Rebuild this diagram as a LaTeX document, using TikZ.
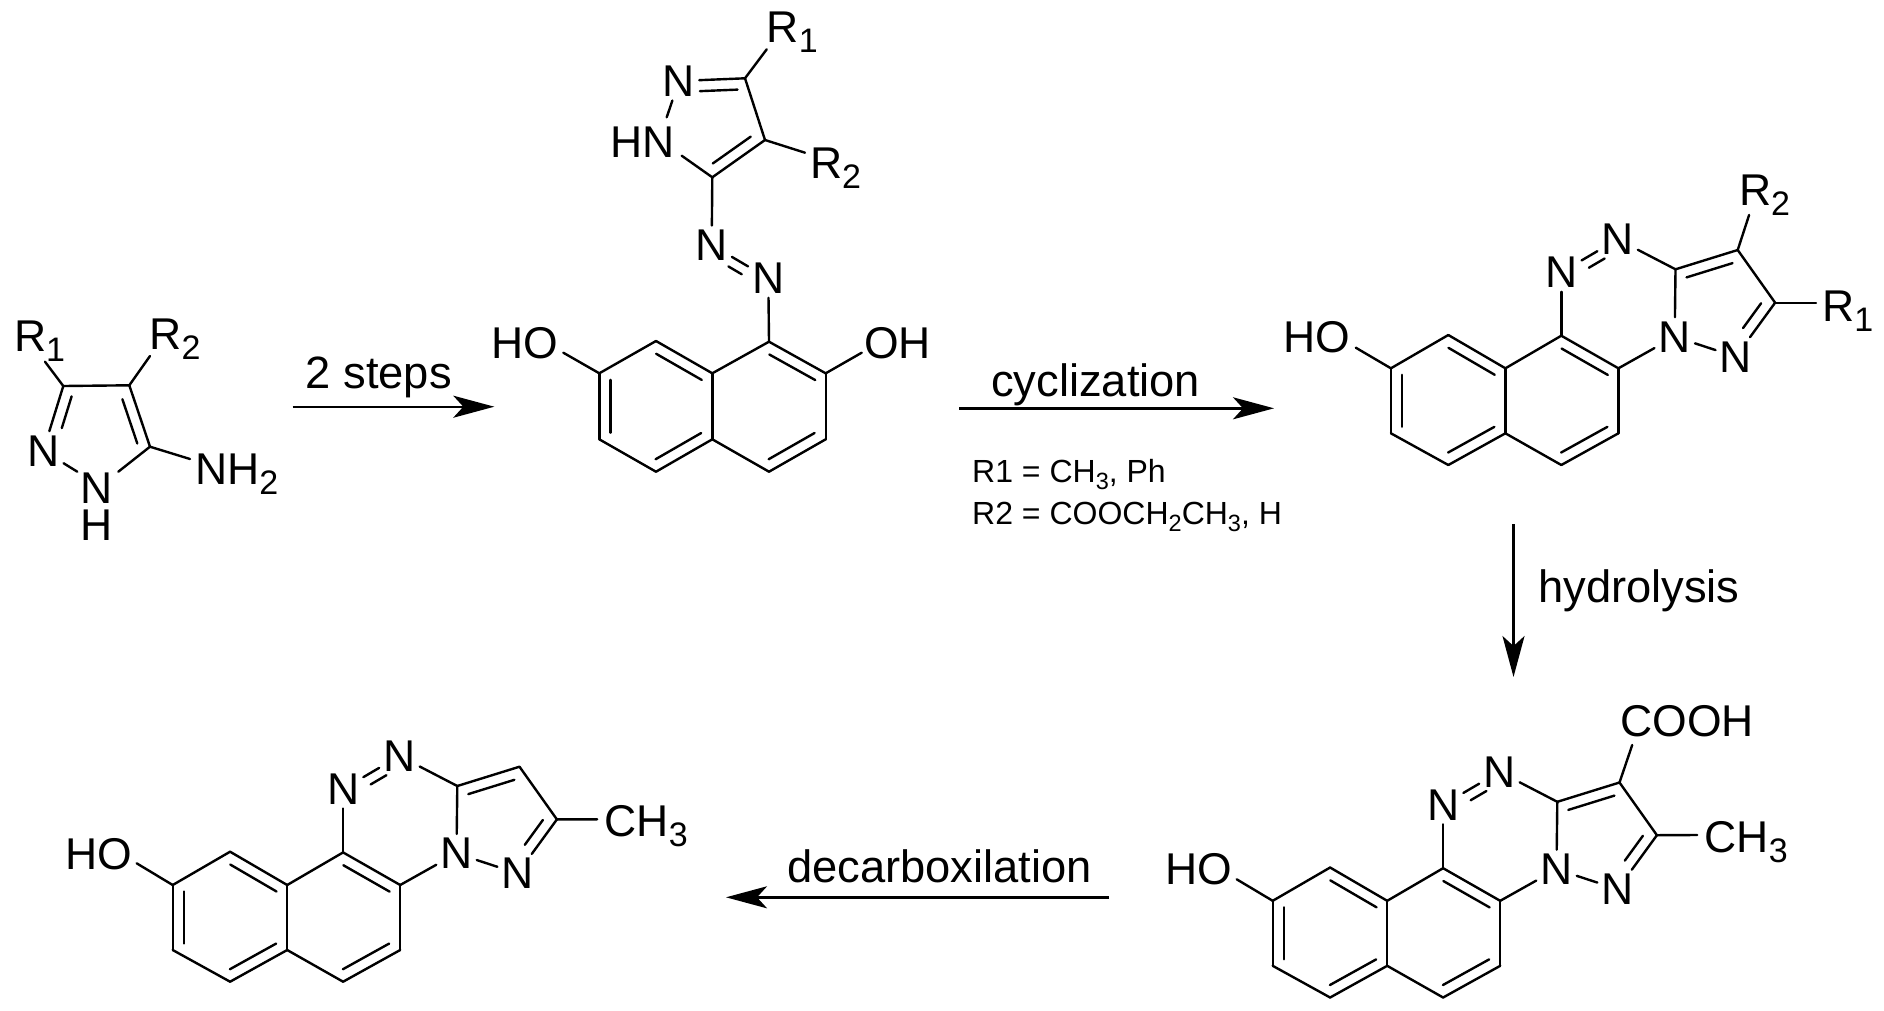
\documentclass[tikz,border=0pt]{standalone}
\usepackage{fontspec}
\setmainfont{Liberation Sans}
\usetikzlibrary{calc,arrows.meta}
\newcommand\sbl[1]{\raisebox{-10pt}{\fontsize{34}{34}\selectfont #1}}
\newcommand\sbs[1]{\raisebox{-7pt}{\fontsize{23.5}{23.5}\selectfont #1}}
\tikzset{
  bond/.style={line width=2.4pt,line cap=round,line join=round},
  atm/.style={inner sep=4pt,font=\fontsize{44.5}{45}\selectfont},
  stack/.style={inner sep=0pt,align=center,font=\fontsize{44.5}{36.7}\selectfont},
  lab/.style={anchor=base west,inner sep=0pt,font=\fontsize{44.5}{45}\selectfont},
  cond/.style={anchor=base west,inner sep=0pt,font=\fontsize{45.3}{46}\selectfont},
  note/.style={anchor=base west,inner sep=0pt,font=\fontsize{32}{33}\selectfont},
  arr/.style={line width=2.4pt,-{Stealth[length=41pt,width=22pt,inset=10pt]}}
}
% single bond
\newcommand\sbond[2]{\draw[bond] (#1) -- (#2);}
% double bond: inner line on the right of a->b, between fractions t1 and t2
\newcommand\dbond[4]{\draw[bond] (#1) -- (#2);
  \draw[bond] ($(#1)!#3!(#2)!11pt!-90:(#2)$) -- ($(#1)!#4!(#2)!11pt!-90:(#2)$);}
% naphthalene + triazine + pyrazole core
\newcommand\tricyc[1]{
  \coordinate (#1c8) at (1448.3,335);
  \coordinate (#1c8a) at (1505.4,368.3);
  \coordinate (#1c1) at (1561.3,335.7);
  \coordinate (#1c2) at (1618.4,368.3);
  \coordinate (#1c3) at (1618.4,433.3);
  \coordinate (#1c4) at (1561.3,465);
  \coordinate (#1c4a) at (1505.4,433.3);
  \coordinate (#1c5) at (1448.3,465);
  \coordinate (#1c6) at (1390.9,433.3);
  \coordinate (#1c7) at (1390.9,368.3);
  \coordinate (#1ca) at (1675.5,269.3);
  \coordinate (#1cb) at (1737.7,250);
  \coordinate (#1cc) at (1775.1,302.7);
  \node[atm] (#1na) at (1561.3,272.3) {N};
  \node[atm] (#1nb) at (1617.6,239.3) {N};
  \node[atm] (#1nc) at (1674.7,336.7) {N};
  \node[atm] (#1nd) at (1735.8,356.7) {N};
  \dbond{#1c8}{#1c8a}{.1}{.91}
  \sbond{#1c8a}{#1c1}
  \dbond{#1c1}{#1c2}{.1}{.91}
  \sbond{#1c2}{#1c3}
  \dbond{#1c3}{#1c4}{.1}{.91}
  \sbond{#1c4}{#1c4a}
  \dbond{#1c4a}{#1c5}{.1}{.91}
  \sbond{#1c5}{#1c6}
  \dbond{#1c6}{#1c7}{.1}{.9}
  \sbond{#1c7}{#1c8}
  \sbond{#1c8a}{#1c4a}
  \sbond{#1c1}{#1na}
  \draw[bond] (#1na) -- (#1nb);
  \draw[bond] ($(#1na)!.40!(#1nb)!10pt!-90:(#1nb)$) -- ($(#1na)!.68!(#1nb)!10pt!-90:(#1nb)$);
  \sbond{#1nb}{#1ca}
  \sbond{#1ca}{#1nc}
  \sbond{#1c2}{#1nc}
  \sbond{#1nc}{#1nd}
  \dbond{#1ca}{#1cb}{.125}{.865}
  \sbond{#1cb}{#1cc}
  \dbond{#1cc}{#1nd}{.13}{.59}
}
\begin{document}
\begin{tikzpicture}[x=1pt,y=-1pt]
\useasboundingbox[fill=white] (0,0) rectangle (1884,1010);

% ---------- molecule 1
\coordinate (ac3) at (63.3,386);
\coordinate (ac4) at (129.3,385.3);
\coordinate (ac5) at (150,446.7);
\node[atm] (an2) at (43.3,450.7) {N};
\node[stack] (an1) at (96.7,506.7) {N\\H};
\coordinate (an1a) at (77.3,471.7);
\coordinate (an1b) at (118.3,471.7);
\node[lab] (ar1) at (13.8,351) {R\sbl{1}};
\node[lab] (ar2) at (149.3,349.3) {R\sbl{2}};
\node[lab] (anh) at (195,484) {NH\sbl{2}};
\coordinate (ar1e) at (45,361.7);
\coordinate (ar2e) at (150,356);
\coordinate (anhe) at (190,459);
\sbond{ac3}{ac4}
\dbond{ac4}{ac5}{.17}{.89}
\sbond{ac5}{an1b}
\sbond{an2}{an1a}
\dbond{an2}{ac3}{.4}{.89}
\sbond{ac3}{ar1e}
\sbond{ac4}{ar2e}
\sbond{ac5}{anhe}

% ---------- molecule 2
\node[atm] (bn) at (679,81) {N};
\coordinate (bc3) at (745,78.3);
\coordinate (bc4) at (765,140);
\coordinate (bc5) at (712.3,177.3);
\node[lab] (bhn) at (610,157.7) {HN};
\coordinate (bhna) at (666.7,117.3);
\coordinate (bhnb) at (681.7,155.7);
\node[lab] (br1) at (766.6,42.7) {R\sbl{1}};
\node[lab] (br2) at (809.9,178.3) {R\sbl{2}};
\coordinate (br1e) at (766.7,49.3);
\coordinate (br2e) at (805,152.7);
\node[atm] (bna) at (711.7,245) {N};
\node[atm] (bnb) at (768.3,278.3) {N};
\coordinate (b1) at (769,341.7);
\coordinate (b2) at (825.7,373.3);
\coordinate (b3) at (825.7,439.3);
\coordinate (b4) at (769,471.7);
\coordinate (b4a) at (712.3,439.3);
\coordinate (b8a) at (712.3,373.3);
\coordinate (b8) at (656,341);
\coordinate (b7) at (599.3,373.3);
\coordinate (b6) at (599.3,439.3);
\coordinate (b5) at (656,471.7);
\node[lab] (bho) at (491,358.3) {HO};
\node[lab] (boh) at (864,358.3) {OH};
\coordinate (bhoe) at (563.3,352.7);
\coordinate (bohe) at (861.7,352.7);
\dbond{bn}{bc3}{.31}{.88}
\sbond{bc3}{bc4}
\dbond{bc4}{bc5}{.15}{.87}
\sbond{bc5}{bhnb}
\sbond{bn}{bhna}
\sbond{bc3}{br1e}
\sbond{bc4}{br2e}
\sbond{bc5}{bna}
\draw[bond] (bna) -- (bnb);
\draw[bond] ($(bna)!.385!(bnb)!10pt!-90:(bnb)$) -- ($(bna)!.62!(bnb)!10pt!-90:(bnb)$);
\sbond{bnb}{b1}
\dbond{b8}{b8a}{.1}{.91}
\sbond{b8a}{b1}
\dbond{b1}{b2}{.1}{.91}
\sbond{b2}{b3}
\dbond{b3}{b4}{.1}{.91}
\sbond{b4}{b4a}
\dbond{b4a}{b5}{.1}{.91}
\sbond{b5}{b6}
\dbond{b6}{b7}{.1}{.9}
\sbond{b7}{b8}
\sbond{b8a}{b4a}
\sbond{b7}{bhoe}
\sbond{b2}{bohe}

% ---------- molecule 3
\tricyc{c}
\node[lab] (cho) at (1283,352.3) {HO};
\node[lab] (cr2) at (1738.8,205) {R\sbl{2}};
\node[lab] (cr1) at (1822,321) {R\sbl{1}};
\coordinate (choe) at (1355.8,347.7);
\coordinate (cr2e) at (1749.1,215);
\coordinate (cr1e) at (1816,302.7);
\sbond{cc7}{choe}
\sbond{ccb}{cr2e}
\sbond{ccc}{cr1e}

% ---------- molecule 4
\begin{scope}[shift={(-118.2,532.5)}]
\tricyc{d}
\end{scope}
\node[lab] (dho) at (1165.6,884.3) {HO};
\node[lab] (dcooh) at (1620.4,736.7) {COOH};
\node[lab] (dch) at (1704.4,852.3) {CH\sbl{3}};
\coordinate (dhoe) at (1236.7,879.3);
\coordinate (dcoohe) at (1632.2,745);
\coordinate (dche) at (1697.2,835);
\sbond{dc7}{dhoe}
\sbond{dcb}{dcoohe}
\sbond{dcc}{dche}

% ---------- molecule 5
\begin{scope}[shift={(-1218.2,516.7)}]
\tricyc{e}
\end{scope}
\node[lab] (eho) at (65.6,869) {HO};
\node[lab] (ech) at (604.4,836.7) {CH\sbl{3}};
\coordinate (ehoe) at (136.7,863.3);
\coordinate (eche) at (597.2,819.3);
\sbond{ec7}{ehoe}
\sbond{ecc}{eche}

% ---------- arrows and conditions
\coordinate (a1s) at (292.7,406.7);
\coordinate (a1e) at (494.3,406.7);
\coordinate (a2s) at (959,408.3);
\coordinate (a2e) at (1274,408.3);
\coordinate (a3s) at (1513.5,524);
\coordinate (a3e) at (1513.5,677);
\coordinate (a4s) at (1109,897.3);
\coordinate (a4e) at (726,897.3);
\draw[arr] (a1s) -- (a1e);
\draw[arr] (a2s) -- (a2e);
\draw[arr] (a3s) -- (a3e);
\draw[arr] (a4s) -- (a4e);
\node[cond] (t1) at (305.5,388.3) {2 steps};
\node[cond] (t2) at (991,396.7) {cyclization};
\node[cond] (t3) at (1538,602.7) {hydrolysis};
\node[cond] (t4) at (787,882) {decarboxilation};
\node[note] (t5) at (972,482.7) {R1 = CH\sbs{3}, Ph};
\node[note] (t6) at (972,524) {R2 = COOCH\sbs{2}CH\sbs{3}, H};
\end{tikzpicture}
\end{document}
